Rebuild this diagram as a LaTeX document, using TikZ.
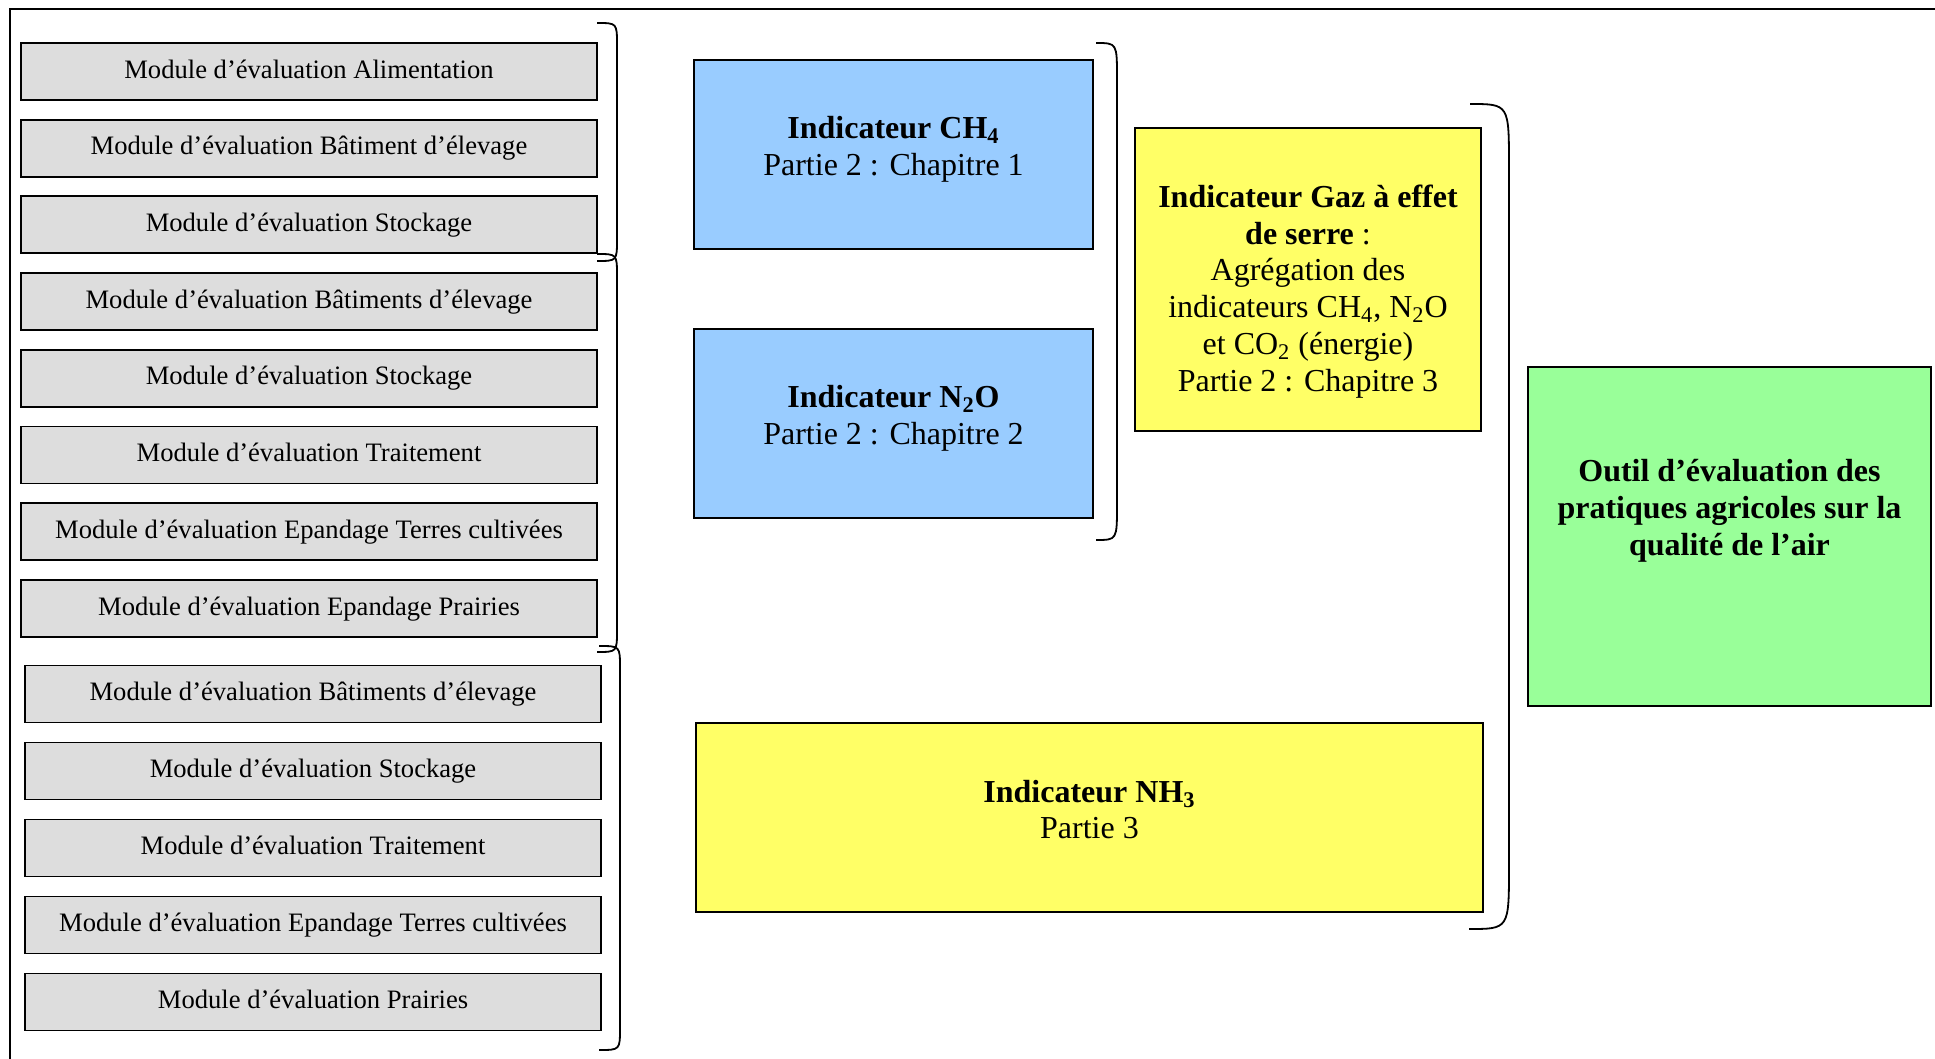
\documentclass[tikz,border=0pt]{standalone}
\usepackage{fontspec}
\setmainfont{Liberation Serif}
\definecolor{modgray}{HTML}{DDDDDD}
\definecolor{indblue}{HTML}{99CCFF}
\definecolor{indyellow}{HTML}{FFFF66}
\definecolor{outgreen}{HTML}{99FF99}

\begin{document}
\begin{tikzpicture}[x=0.5pt, y=-0.5pt,
    module/.style={draw, line width=0.9pt, fill=modgray, minimum width=288pt, minimum height=28.5pt,
      inner sep=0pt, text height=9.5pt, text depth=2.9pt, font=\fontsize{13.3}{15.3}\selectfont},
    ind/.style={draw, line width=0.9pt, inner sep=0pt},
    txt/.style={align=center, inner sep=0pt, font=\fontsize{16}{18.4}\selectfont},
    brak/.style={line width=0.9pt}]
    \useasboundingbox (0,0) rectangle (1935,1059);
    % frame
    \draw[line width=1.2pt] (1935,9) -- (10,9) -- (10,1059);

    % modules
    \node[module] (M1)  at (309,  71.5) {Module d’évaluation Alimentation};
    \node[module] (M2)  at (309, 148.2) {Module d’évaluation Bâtiment d’élevage};
    \node[module] (M3)  at (309, 224.9) {Module d’évaluation Stockage};
    \node[module] (M4)  at (309, 301.6) {Module d’évaluation Bâtiments d’élevage};
    \node[module] (M5)  at (309, 378.3) {Module d’évaluation Stockage};
    \node[module] (M6)  at (309, 455.0) {Module d’évaluation Traitement};
    \node[module] (M7)  at (309, 531.7) {Module d’évaluation Epandage Terres cultivées};
    \node[module] (M8)  at (309, 608.4) {Module d’évaluation Epandage Prairies};
    \node[module] (M9)  at (313, 694.0) {Module d’évaluation Bâtiments d’élevage};
    \node[module] (M10) at (313, 771.0) {Module d’évaluation Stockage};
    \node[module] (M11) at (313, 848.0) {Module d’évaluation Traitement};
    \node[module] (M12) at (313, 925.0) {Module d’évaluation Epandage Terres cultivées};
    \node[module] (M13) at (313,1002.0) {Module d’évaluation Prairies};

    % indicateurs
    \node[ind, fill=indblue, minimum width=199.5pt, minimum height=94.5pt] (CH) at (893.5,154.5) {};
    \node[ind, fill=indblue, minimum width=199.5pt, minimum height=94.5pt] (NO) at (893.5,423.5) {};
    \node[ind, fill=indyellow, minimum width=173pt, minimum height=151.5pt] (GES) at (1308,279.5) {};
    \node[ind, fill=indyellow, minimum width=393.5pt, minimum height=94.5pt] (NH) at (1089.5,817.5) {};
    \node[ind, fill=outgreen, minimum width=201.5pt, minimum height=169.5pt] (Out) at (1729.5,536.5) {};

    \node[txt] (CHt) at ([yshift=2.7pt]CH.center) {\textbf{Indicateur CH\textsubscript{4}}\\Partie 2 : Chapitre 1};
    \node[txt] (NOt) at ([yshift=2.7pt]NO.center) {\textbf{Indicateur N\textsubscript{2}O}\\Partie 2 : Chapitre 2};
    \node[txt] (GESt) at ([yshift=-6pt]GES.center) {\textbf{Indicateur Gaz à effet}\\\textbf{de serre} :\\Agrégation des\\indicateurs CH\textsubscript{4}, N\textsubscript{2}O\\et CO\textsubscript{2} (énergie)\\Partie 2 : Chapitre 3};
    \node[txt] (NHt) at ([yshift=4pt]NH.center) {\textbf{Indicateur NH\textsubscript{3}}\\Partie 3};
    \node[txt, font=\fontsize{16}{18.4}\selectfont\bfseries] (Outt) at ([yshift=13pt]Out.center) {Outil d’évaluation des\\pratiques agricoles sur la\\qualité de l’air};

    % accolades
    \coordinate (B1a) at (597,  23); \coordinate (B1b) at (597, 261);
    \coordinate (B2a) at (597, 254); \coordinate (B2b) at (597, 652);
    \coordinate (B3a) at (599, 646); \coordinate (B3b) at (599,1050);
    \coordinate (B4a) at (1096, 43); \coordinate (B4b) at (1096,540);
    \coordinate (B5a) at (1470,104); \coordinate (B5b) at (1469,929);
    \draw[brak] (B1a) .. controls (617,  23) .. (617,  45) -- (617, 239) .. controls (617, 261) .. (B1b);
    \draw[brak] (B2a) .. controls (617, 254) .. (617, 276) -- (617, 630) .. controls (617, 652) .. (B2b);
    \draw[brak] (B3a) .. controls (620, 646) .. (620, 668) -- (620,1028) .. controls (620,1050) .. (B3b);
    \draw[brak] (B4a) .. controls (1117, 43) .. (1117, 78) -- (1117,505) .. controls (1117,540) .. (B4b);
    \draw[brak] (B5a) .. controls (1509,104) .. (1509,167) -- (1509,866) .. controls (1509,929) .. (B5b);
\end{tikzpicture}
\end{document}
